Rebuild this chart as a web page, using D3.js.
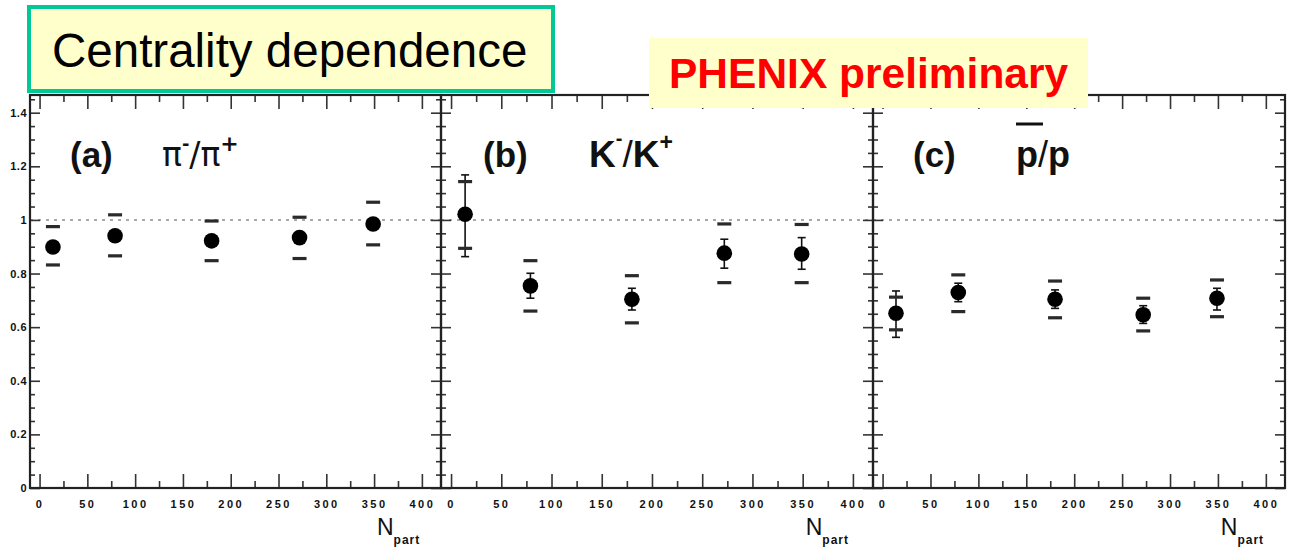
<!DOCTYPE html>
<html><head><meta charset="utf-8">
<script src="https://cdn.jsdelivr.net/npm/d3@7"></script>
<style>body{margin:0;background:#fff} svg{display:block}</style>
</head><body>
<svg id="c" width="1294" height="549"></svg>
<script>
// ---- data ----
const npart = [14, 79, 180, 272, 349];

const piVal   = [0.899, 0.941, 0.922, 0.934, 0.985];
const piStatLo = [0.893, 0.935, 0.916, 0.928, 0.979];
const piStatHi = [0.905, 0.947, 0.928, 0.940, 0.991];
const piSysLo = [0.832, 0.866, 0.848, 0.856, 0.907];
const piSysHi = [0.975, 1.019, 0.996, 1.010, 1.066];

const kVal    = [1.021, 0.754, 0.704, 0.876, 0.873];
const kStatLo = [0.863, 0.708, 0.664, 0.820, 0.816];
const kStatHi = [1.168, 0.801, 0.745, 0.928, 0.934];
const kSysLo  = [0.894, 0.660, 0.616, 0.766, 0.766];
const kSysHi  = [1.143, 0.848, 0.792, 0.985, 0.983];

const pVal    = [0.652, 0.729, 0.704, 0.646, 0.708];
const pStatLo = [0.562, 0.695, 0.670, 0.614, 0.664];
const pStatHi = [0.735, 0.764, 0.739, 0.680, 0.745];
const pSysLo  = [0.590, 0.658, 0.635, 0.586, 0.639];
const pSysHi  = [0.712, 0.795, 0.772, 0.708, 0.776];

const xMajor = [0, 50, 100, 150, 200, 250, 300, 350, 400];
const xMinor = [25, 75, 125, 175, 225, 275, 325, 375];
const yMajor = [0, 0.2, 0.4, 0.6, 0.8, 1.0, 1.2, 1.4];
const yTickLabels = ["0", "0.2", "0.4", "0.6", "0.8", "1", "1.2", "1.4"];
const yMinor = [0.05,0.1,0.15,0.25,0.3,0.35,0.45,0.5,0.55,0.65,0.7,0.75,0.85,0.9,0.95,1.05,1.1,1.15,1.25,1.3,1.35,1.45];
const refLine = 1.0;

// ---- layout ----
const svg = d3.select("#c");
const y = d3.scaleLinear().domain([0, 1.466]).range([488, 95]);
const xDomain = [-10, 420];
const panels = [
  {range:[30,441], val:piVal, sLo:piStatLo, sHi:piStatHi, yLo:piSysLo, yHi:piSysHi, labels:true},
  {range:[441,873], val:kVal, sLo:kStatLo, sHi:kStatHi, yLo:kSysLo, yHi:kSysHi, labels:false},
  {range:[873,1285], val:pVal, sLo:pStatLo, sHi:pStatHi, yLo:pSysLo, yHi:pSysHi, labels:false}
];
const tickFont = "Liberation Sans, Arial, sans-serif";

panels.forEach((p, pi) => {
  const x = d3.scaleLinear().domain(xDomain).range(p.range);
  const g = svg.append("g");
  const [x0, x1] = p.range;
  const [yb, yt] = y.range();

  // reference dotted line
  g.append("line").attr("x1", x0).attr("x2", x1)
    .attr("y1", y(refLine)).attr("y2", y(refLine))
    .attr("stroke", "#a8a8a8").attr("stroke-width", 2).attr("stroke-dasharray", "3,5");

  function styleAxis(sel) {
    sel.select(".domain").remove();
    sel.selectAll(".tick line").attr("stroke", "#333").attr("stroke-width", 1.6);
  }
  // bottom axis major with labels
  const bx = g.append("g").attr("transform", `translate(0,${yb})`)
    .call(d3.axisBottom(x).tickValues(xMajor).tickSize(-14).tickPadding(12).tickFormat(d3.format("d")));
  styleAxis(bx);
  bx.selectAll("text").attr("font-family", tickFont).attr("font-weight", "bold")
    .attr("font-size", 11).attr("letter-spacing", 2.5).attr("fill", "#111");
  const bxm = g.append("g").attr("transform", `translate(0,${yb})`)
    .call(d3.axisBottom(x).tickValues(xMinor).tickSize(-7).tickFormat(""));
  styleAxis(bxm);
  // top axis
  const tx = g.append("g").attr("transform", `translate(0,${yt})`)
    .call(d3.axisTop(x).tickValues(xMajor).tickSize(-14).tickFormat(""));
  styleAxis(tx);
  const txm = g.append("g").attr("transform", `translate(0,${yt})`)
    .call(d3.axisTop(x).tickValues(xMinor).tickSize(-7).tickFormat(""));
  styleAxis(txm);
  // left axis
  const ly = g.append("g").attr("transform", `translate(${x0},0)`)
    .call(d3.axisLeft(y).tickValues(yMajor).tickSize(-10).tickPadding(3)
      .tickFormat((d, i) => p.labels ? yTickLabels[i] : ""));
  styleAxis(ly);
  ly.selectAll("text").attr("font-family", tickFont).attr("font-weight", "bold")
    .attr("font-size", 11).attr("letter-spacing", 0.5).attr("fill", "#111");
  const lym = g.append("g").attr("transform", `translate(${x0},0)`)
    .call(d3.axisLeft(y).tickValues(yMinor).tickSize(-5).tickFormat(""));
  styleAxis(lym);
  // right axis
  const ry = g.append("g").attr("transform", `translate(${x1},0)`)
    .call(d3.axisRight(y).tickValues(yMajor).tickSize(-10).tickFormat(""));
  styleAxis(ry);
  const rym = g.append("g").attr("transform", `translate(${x1},0)`)
    .call(d3.axisRight(y).tickValues(yMinor).tickSize(-5).tickFormat(""));
  styleAxis(rym);

  // frame
  g.append("rect").attr("x", x0).attr("y", yt).attr("width", x1 - x0).attr("height", yb - yt)
    .attr("fill", "none").attr("stroke", "#222").attr("stroke-width", 2.2);

  // data
  const pts = npart.map((n, i) => ({n, v:p.val[i], sLo:p.sLo[i], sHi:p.sHi[i], yLo:p.yLo[i], yHi:p.yHi[i]}));
  const d = g.append("g");
  // stat bars
  d.selectAll(".stat").data(pts).join("line")
    .attr("x1", e => x(e.n)).attr("x2", e => x(e.n))
    .attr("y1", e => y(e.sLo)).attr("y2", e => y(e.sHi))
    .attr("stroke", "#111").attr("stroke-width", 1.6);
  ["sLo", "sHi"].forEach(k => {
    d.selectAll(".sc" + k).data(pts).join("line")
      .attr("x1", e => x(e.n) - 4).attr("x2", e => x(e.n) + 4)
      .attr("y1", e => y(e[k])).attr("y2", e => y(e[k]))
      .attr("stroke", "#111").attr("stroke-width", 1.6);
  });
  // systematic caps
  ["yLo", "yHi"].forEach(k => {
    d.selectAll(".sy" + k).data(pts).join("line")
      .attr("x1", e => x(e.n) - 7).attr("x2", e => x(e.n) + 7)
      .attr("y1", e => y(e[k])).attr("y2", e => y(e[k]))
      .attr("stroke", "#2a2a2a").attr("stroke-width", 3.2);
  });
  // markers
  d.selectAll("circle").data(pts).join("circle")
    .attr("cx", e => x(e.n)).attr("cy", e => y(e.v)).attr("r", 7.8).attr("fill", "#000");

  // N_part label
  const nl = g.append("text").attr("x", x(353)).attr("y", 535)
    .attr("font-family", tickFont).attr("fill", "#111");
  nl.append("tspan").attr("font-size", 23).text("N");
  nl.append("tspan").attr("font-size", 12).attr("font-weight", "bold").attr("dy", 9).attr("letter-spacing", 1).text("part");
});

// panel labels
const lf = "Liberation Sans, Arial, sans-serif";
function lab(xp, t) {
  svg.append("text").attr("x", xp).attr("y", 167).attr("font-family", lf)
    .attr("font-weight", "bold").attr("font-size", 35).attr("fill", "#111").text(t);
}
lab(70, "(a)"); lab(483, "(b)"); lab(913, "(c)");

// (a) pi-/pi+
const ta = svg.append("text").attr("x", 162).attr("y", 166).attr("font-family", "DejaVu Sans, sans-serif")
  .attr("font-size", 33).attr("fill", "#111");
ta.append("tspan").text("π");
ta.append("tspan").attr("font-size", 18).attr("dy", -16).attr("font-weight", "bold").text("-");
ta.append("tspan").attr("dy", 16).text("/π");
ta.append("tspan").attr("font-size", 22).attr("dy", -15).attr("font-weight", "bold").text("+");

// (b) K-/K+
const tb = svg.append("text").attr("x", 589).attr("y", 167).attr("font-family", lf)
  .attr("font-weight", "bold").attr("font-size", 37).attr("fill", "#111");
tb.append("tspan").text("K");
tb.append("tspan").attr("font-size", 20).attr("dy", -22).text("-");
tb.append("tspan").attr("dy", 22).attr("font-weight", "normal").text("/");
tb.append("tspan").text("K");
tb.append("tspan").attr("font-size", 23).attr("dy", -17).text("+");

// (c) pbar/p
svg.append("line").attr("x1", 1016).attr("x2", 1043).attr("y1", 124).attr("y2", 124)
  .attr("stroke", "#111").attr("stroke-width", 3);
const tc = svg.append("text").attr("x", 1016).attr("y", 167).attr("font-family", lf)
  .attr("font-weight", "bold").attr("font-size", 36).attr("fill", "#111");
tc.append("tspan").text("p");
tc.append("tspan").attr("font-weight", "normal").text("/");
tc.append("tspan").text("p");

// Title box
svg.append("rect").attr("x", 29).attr("y", 7).attr("width", 524).attr("height", 84)
  .attr("fill", "#ffffcc").attr("stroke", "#00c896").attr("stroke-width", 4);
svg.append("text").attr("x", 52).attr("y", 67).attr("font-family", lf)
  .attr("font-size", 47.5).attr("fill", "#000").text("Centrality dependence");

// PHENIX box
svg.append("rect").attr("x", 649).attr("y", 38).attr("width", 439).attr("height", 70)
  .attr("fill", "#ffffcc");
svg.append("text").attr("x", 669).attr("y", 88).attr("font-family", lf)
  .attr("font-weight", "bold").attr("font-size", 42.5).attr("fill", "#ff0000").text("PHENIX preliminary");
</script>
</body></html>
